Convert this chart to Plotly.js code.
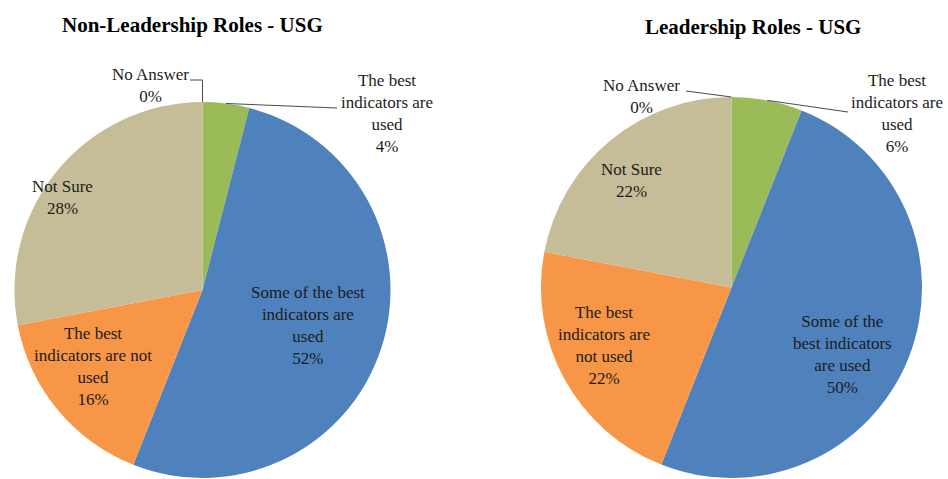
<!DOCTYPE html>
<html>
<head>
<meta charset="utf-8">
<script src="https://cdn.plot.ly/plotly-3.0.1.min.js"></script>
<style>html,body{margin:0;padding:0;background:#fff;}#chart{width:948px;height:479px;}</style>
</head>
<body>
<div id="chart"></div>
<script>
// ---- data ----
const categories = ["The best indicators are used", "Some of the best indicators are used", "The best indicators are not used", "Not Sure", "No Answer"];
const nonLeaderValues = [4, 52, 16, 28, 0];
const leaderValues = [6, 50, 22, 22, 0];
const nonLeaderLabelText = ["The best<br>indicators are<br>used", "Some of the best<br>indicators are<br>used", "The best<br>indicators are not<br>used", "Not Sure", "No Answer"];
const leaderLabelText = ["The best<br>indicators are<br>used", "Some of the<br>best indicators<br>are used", "The best<br>indicators are<br>not used", "Not Sure", "No Answer"];
const titles = ["Non-Leadership Roles - USG", "Leadership Roles - USG"];
const colors = ["#9BBB59", "#4F81BD", "#F79646", "#C4BD97", "#8064A2"];

// ---- layout helpers (pixel geometry) ----
const W = 948, H = 479;
const px = x => x / W;
const py = y => 1 - y / H;
const FONT = "Liberation Serif";
const TXT = "#1c1c1c";

const pies = [
  { values: nonLeaderValues, labels: nonLeaderLabelText, cx: 202.5, cy: 290, r: 188,
    labelPos: [[386.5, 113], [308, 325.5], [93, 366.5], [62, 197.5], [150, 85.5]],
    title: [192, 25] },
  { values: leaderValues, labels: leaderLabelText, cx: 731.5, cy: 287.5, r: 190.5,
    labelPos: [[897, 114], [842, 354.5], [604, 345.5], [631, 180.5], [641, 96.5]],
    title: [753, 27] }
];

const traces = [];
const annotations = [];
const shapes = [];

pies.forEach((p, k) => {
  traces.push({
    type: "pie",
    labels: categories,
    values: p.values,
    sort: false,
    direction: "clockwise",
    rotation: 0,
    textinfo: "none",
    hoverinfo: "label+percent",
    marker: { colors: colors, line: { width: 0 } },
    showlegend: false,
    domain: { x: [px(p.cx - p.r), px(p.cx + p.r)], y: [py(p.cy + p.r), py(p.cy - p.r)] }
  });
  const total = p.values.reduce((a, b) => a + b, 0);
  p.values.forEach((v, i) => {
    annotations.push({
      xref: "paper", yref: "paper",
      x: px(p.labelPos[i][0]), y: py(p.labelPos[i][1]),
      xanchor: "center", yanchor: "middle", align: "center",
      showarrow: false,
      text: p.labels[i] + "<br>" + Math.round(v / total * 100) + "%",
      font: { family: FONT, size: 17, color: TXT }
    });
  });
  annotations.push({
    xref: "paper", yref: "paper", x: px(p.title[0]), y: py(p.title[1]),
    xanchor: "center", yanchor: "middle", showarrow: false,
    text: "<b>" + titles[k] + "</b>",
    font: { family: FONT, size: 21, color: "#000" }
  });

  // leader line endpoints on the pie edge from data
  function edgePoint(frac) {
    const a = frac * 2 * Math.PI;
    return [p.cx + p.r * Math.sin(a), p.cy - p.r * Math.cos(a)];
  }
  const firstMid = edgePoint((p.values[0] / 2) / total);
  const lastMid = edgePoint((total - p.values[4] / 2) / total);
  const line = (x0, y0, x1, y1) => shapes.push({
    type: "line", xref: "paper", yref: "paper",
    x0: px(x0), y0: py(y0), x1: px(x1), y1: py(y1),
    line: { color: "#4a4a4a", width: 1 }
  });
  if (k === 0) {
    line(firstMid[0], firstMid[1], 337, 108);
    line(190, 80, lastMid[0], 80);
    line(lastMid[0], 80, lastMid[0], lastMid[1]);
  } else {
    line(firstMid[0], firstMid[1], 848, 112);
    line(686, 91, lastMid[0], lastMid[1]);
  }
});

const layout = {
  width: W, height: H,
  margin: { l: 0, r: 0, t: 0, b: 0 },
  paper_bgcolor: "#fff",
  annotations: annotations,
  shapes: shapes,
  showlegend: false
};

Plotly.newPlot("chart", traces, layout, { displayModeBar: false, staticPlot: true });
</script>
</body>
</html>
